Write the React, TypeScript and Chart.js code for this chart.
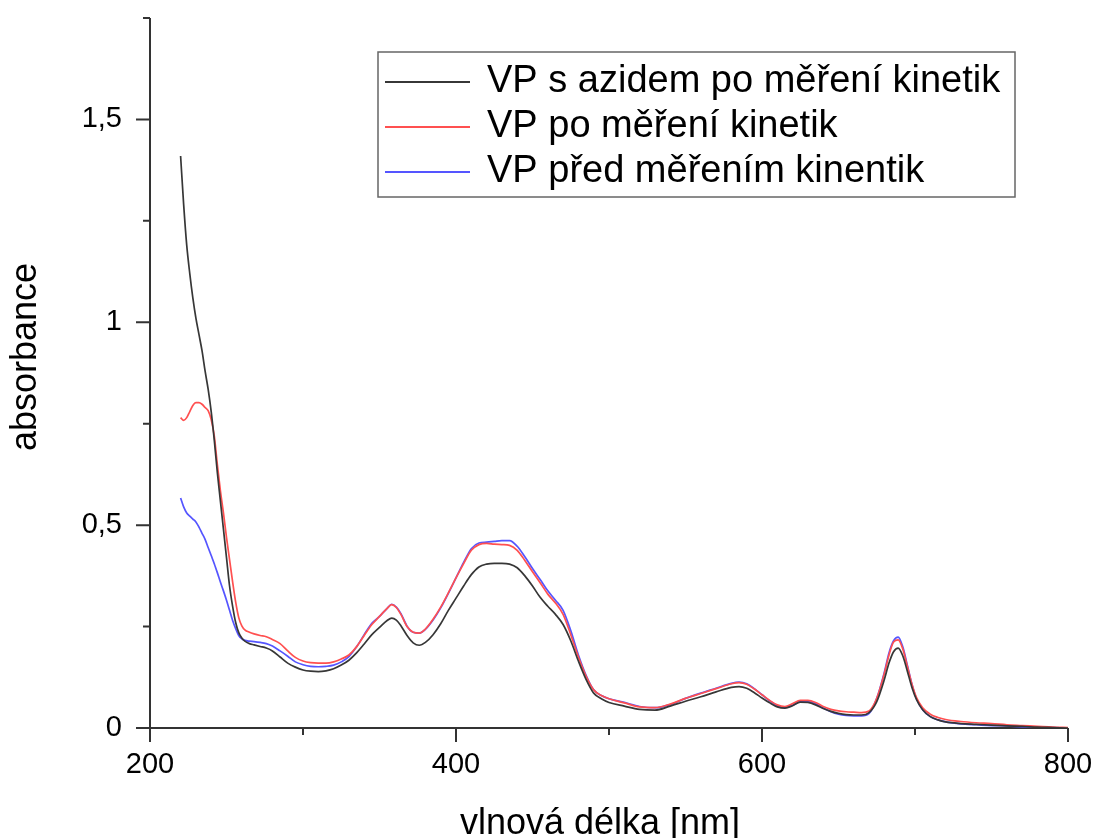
import React, { useEffect, useRef } from "react";
import { Chart, registerables } from "chart.js";

Chart.register(...registerables);

// ---- data ----
const wavelengths = [
  220, 222, 224, 226, 228, 230, 232, 234, 236, 238,
  240, 242, 244, 246, 248, 250, 252, 254, 256, 258,
  260, 262, 265, 268, 272, 276, 280, 285, 290, 295,
  300, 305, 310, 315, 320, 325, 330, 335, 340, 345,
  350, 355, 358, 361, 364, 368, 372, 376, 380, 385,
  390, 395, 400, 405, 410, 415, 420, 425, 430, 435,
  440, 445, 450, 455, 460, 465, 470, 475, 480, 485,
  490, 495, 500, 510, 520, 530, 540, 550, 560, 570,
  580, 585, 590, 595, 600, 605, 610, 615, 620, 625,
  630, 635, 640, 645, 650, 655, 660, 665, 670, 675,
  680, 683, 686, 689, 692, 695, 698, 701, 705, 710,
  715, 720, 730, 740, 750, 760, 770, 780, 790, 800,
];

const azideAfter = [
  1.41, 1.29, 1.19, 1.12, 1.06, 1.01, 0.97, 0.93, 0.88, 0.835,
  0.78, 0.71, 0.63, 0.56, 0.49, 0.42, 0.35, 0.3, 0.26, 0.235,
  0.222, 0.214, 0.208, 0.205, 0.201, 0.197, 0.19, 0.175, 0.16, 0.15,
  0.143, 0.14, 0.139, 0.141, 0.146, 0.155, 0.167, 0.185, 0.207, 0.23,
  0.248, 0.265, 0.271, 0.266, 0.252, 0.228, 0.21, 0.204, 0.211, 0.23,
  0.257, 0.29, 0.32, 0.35, 0.378, 0.397, 0.404, 0.406, 0.406, 0.404,
  0.395, 0.375, 0.35, 0.322, 0.3, 0.28, 0.255, 0.215, 0.165, 0.12,
  0.086, 0.072, 0.063, 0.054, 0.046, 0.044, 0.054, 0.066, 0.077, 0.089,
  0.1, 0.102, 0.098, 0.087, 0.074, 0.062, 0.052, 0.049, 0.055, 0.064,
  0.063, 0.057, 0.048, 0.041, 0.036, 0.033, 0.032, 0.032, 0.038, 0.065,
  0.12, 0.16, 0.188, 0.197, 0.178, 0.14, 0.1, 0.07, 0.045, 0.028,
  0.02, 0.015, 0.011, 0.009, 0.007, 0.005, 0.004, 0.002, 0.001, 0.0,
];

const afterKinetics = [
  0.765, 0.758, 0.765, 0.78, 0.795, 0.802, 0.802, 0.798, 0.79, 0.782,
  0.76, 0.72, 0.65, 0.585, 0.53, 0.47, 0.415, 0.36, 0.31, 0.272,
  0.252, 0.242, 0.236, 0.232, 0.228, 0.225, 0.218, 0.208, 0.19, 0.174,
  0.165, 0.161, 0.16, 0.16, 0.163, 0.17, 0.18, 0.2, 0.228, 0.255,
  0.275, 0.295, 0.304, 0.297, 0.28, 0.25, 0.236, 0.234, 0.244, 0.268,
  0.298, 0.333, 0.37, 0.405, 0.438, 0.452, 0.455, 0.453, 0.452, 0.45,
  0.438, 0.413, 0.385, 0.358, 0.33, 0.308, 0.28, 0.23, 0.175, 0.128,
  0.094, 0.08, 0.072, 0.062, 0.052, 0.05, 0.059, 0.073, 0.085, 0.097,
  0.109, 0.112, 0.108, 0.096, 0.082, 0.068, 0.057, 0.053, 0.06, 0.068,
  0.068, 0.063, 0.053, 0.046, 0.042, 0.04, 0.039, 0.038, 0.042, 0.073,
  0.135, 0.18, 0.212, 0.217, 0.195, 0.152, 0.108, 0.075, 0.05, 0.034,
  0.026, 0.021, 0.016, 0.013, 0.011, 0.008, 0.006, 0.004, 0.002, 0.001,
];

const beforeKinetics = [
  0.567, 0.545, 0.53, 0.522, 0.515, 0.508, 0.495, 0.48, 0.465, 0.445,
  0.425, 0.405, 0.383, 0.36, 0.338, 0.315, 0.29, 0.265, 0.245, 0.228,
  0.22, 0.216, 0.214, 0.213, 0.211, 0.208, 0.202, 0.19, 0.177, 0.163,
  0.156, 0.152, 0.151, 0.152, 0.155, 0.163, 0.176, 0.2, 0.23, 0.258,
  0.275, 0.295, 0.305, 0.298, 0.282, 0.251, 0.236, 0.234, 0.243, 0.266,
  0.296, 0.332, 0.37, 0.408, 0.442, 0.456, 0.458, 0.46, 0.462, 0.462,
  0.448, 0.422, 0.393, 0.366, 0.338, 0.315, 0.29, 0.24, 0.18, 0.13,
  0.094, 0.08, 0.072, 0.063, 0.053, 0.05, 0.058, 0.073, 0.086, 0.098,
  0.11, 0.113, 0.109, 0.097, 0.082, 0.067, 0.055, 0.05, 0.056, 0.065,
  0.066, 0.06, 0.049, 0.04, 0.034, 0.031, 0.03, 0.03, 0.036, 0.073,
  0.138, 0.185, 0.215, 0.224, 0.2, 0.155, 0.108, 0.072, 0.045, 0.028,
  0.02, 0.015, 0.01, 0.008, 0.006, 0.005, 0.003, 0.002, 0.001, 0.0,
];

const seriesLabels = [
  "VP s azidem po měření kinetik",
  "VP po měření kinetik",
  "VP před měřením kinentik",
];

const xMajorTicks = [200, 400, 600, 800];
const xMinorTicks = [300, 500, 700];
const yMajorTicks = [0, 0.5, 1, 1.5];
const yTickLabels = ["0", "0,5", "1", "1,5"];
const yMinorTicks = [0.25, 0.75, 1.25, 1.75];

const xTitle = "vlnová délka [nm]";
const yTitle = "absorbance";

// ---- styles ----
const FONT = "'Liberation Sans', Arial, sans-serif";
const COLORS = ["rgb(55,55,55)", "rgb(255,80,80)", "rgb(85,85,255)"];
const AXIS_COLOR = "#333";

const axesPlugin = {
  id: "axesTicks",
  beforeDatasetsDraw(chart: any) {
    const { ctx, chartArea } = chart;
    const xs = chart.scales.x;
    const ys = chart.scales.y;
    const major = 14;
    const minor = 7;
    ctx.save();
    ctx.strokeStyle = AXIS_COLOR;
    ctx.lineWidth = 2;
    ctx.lineCap = "butt";
    ctx.beginPath();
    ctx.moveTo(chartArea.left, chartArea.top);
    ctx.lineTo(chartArea.left, chartArea.bottom);
    ctx.moveTo(chartArea.left, chartArea.bottom);
    ctx.lineTo(chartArea.right, chartArea.bottom);
    for (const v of xMajorTicks) {
      const px = xs.getPixelForValue(v);
      ctx.moveTo(px, chartArea.bottom);
      ctx.lineTo(px, chartArea.bottom + major);
    }
    for (const v of xMinorTicks) {
      const px = xs.getPixelForValue(v);
      ctx.moveTo(px, chartArea.bottom);
      ctx.lineTo(px, chartArea.bottom + minor);
    }
    for (const v of yMajorTicks) {
      const py = ys.getPixelForValue(v);
      ctx.moveTo(chartArea.left, py);
      ctx.lineTo(chartArea.left - major, py);
    }
    for (const v of yMinorTicks) {
      const py = ys.getPixelForValue(v);
      ctx.moveTo(chartArea.left, py);
      ctx.lineTo(chartArea.left - minor, py);
    }
    ctx.stroke();

    // axis titles
    ctx.fillStyle = "#000";
    ctx.font = `36px ${FONT}`;
    ctx.textBaseline = "middle";
    ctx.textAlign = "center";
    ctx.fillText(xTitle, 600, 824);
    ctx.translate(26, 357);
    ctx.rotate(-Math.PI / 2);
    ctx.fillText(yTitle, 0, 0);
    ctx.restore();
  },
};

const legendPlugin = {
  id: "boxLegend",
  afterDraw(chart: any) {
    const { ctx } = chart;
    const box = { left: 378, top: 52, right: 1015, bottom: 197 };
    const rows = [82, 127, 172];
    ctx.save();
    ctx.fillStyle = "#fff";
    ctx.fillRect(box.left, box.top, box.right - box.left, box.bottom - box.top);
    ctx.strokeStyle = "#666";
    ctx.lineWidth = 1.5;
    ctx.strokeRect(box.left, box.top, box.right - box.left, box.bottom - box.top);
    chart.data.datasets.forEach((ds: any, i: number) => {
      const y = rows[i];
      ctx.strokeStyle = ds.borderColor;
      ctx.lineWidth = 2;
      ctx.beginPath();
      ctx.moveTo(385, y);
      ctx.lineTo(470, y);
      ctx.stroke();
      ctx.fillStyle = "#000";
      ctx.font = `38px ${FONT}`;
      ctx.textBaseline = "middle";
      ctx.textAlign = "left";
      ctx.fillText(ds.label, 487, y);
    });
    ctx.restore();
  },
};

export default function App() {
  const canvasRef = useRef<HTMLCanvasElement | null>(null);

  useEffect(() => {
    const canvas = canvasRef.current;
    if (!canvas) return;
    const seriesValues = [azideAfter, afterKinetics, beforeKinetics];
    const chart = new Chart(canvas, {
      type: "line",
      data: {
        datasets: seriesValues.map((vals, i) => ({
          label: seriesLabels[i],
          data: wavelengths.map((w, j) => ({ x: w, y: vals[j] })),
          borderColor: COLORS[i],
          backgroundColor: COLORS[i],
          borderWidth: 1.7,
          pointRadius: 0,
          cubicInterpolationMode: "monotone" as const,
          fill: false,
        })),
      },
      options: {
        animation: false,
        responsive: false,
        devicePixelRatio: 1,
        layout: { padding: { top: 18, right: 28, left: 0, bottom: 0 } },
        plugins: {
          legend: { display: false },
          tooltip: { enabled: false },
        },
        scales: {
          x: {
            type: "linear",
            min: 200,
            max: 800,
            grid: { display: false, drawTicks: true, tickLength: 20 },
            border: { display: false },
            afterBuildTicks: (scale: any) => {
              scale.ticks = xMajorTicks.map((v) => ({ value: v }));
            },
            afterFit: (scale: any) => {
              scale.height = 110;
              scale.paddingLeft = 0;
              scale.paddingRight = 0;
            },
            ticks: {
              padding: 0,
              color: "#000",
              font: { family: FONT, size: 29 },
              maxRotation: 0,
              callback: (v: any) => String(v),
            },
            title: { display: false },
          },
          y: {
            type: "linear",
            min: 0,
            max: 1.75,
            grid: { display: false, drawTicks: true, tickLength: 28 },
            border: { display: false },
            afterBuildTicks: (scale: any) => {
              scale.ticks = yMajorTicks.map((v) => ({ value: v }));
            },
            afterFit: (scale: any) => {
              scale.width = 150;
              scale.paddingTop = 0;
              scale.paddingBottom = 0;
            },
            ticks: {
              padding: 0,
              color: "#000",
              font: { family: FONT, size: 29 },
              callback: (v: any) => {
                const idx = yMajorTicks.indexOf(Number(v));
                return idx >= 0 ? yTickLabels[idx] : "";
              },
            },
            title: { display: false },
          },
        },
      },
      plugins: [axesPlugin, legendPlugin],
    });
    return () => chart.destroy();
  }, []);

  return (
    <div style={{ position: "fixed", left: 0, top: 0, width: 1096, height: 838, background: "#fff" }}>
      <canvas ref={canvasRef} width={1096} height={838} style={{ width: 1096, height: 838, display: "block" }} />
    </div>
  );
}
